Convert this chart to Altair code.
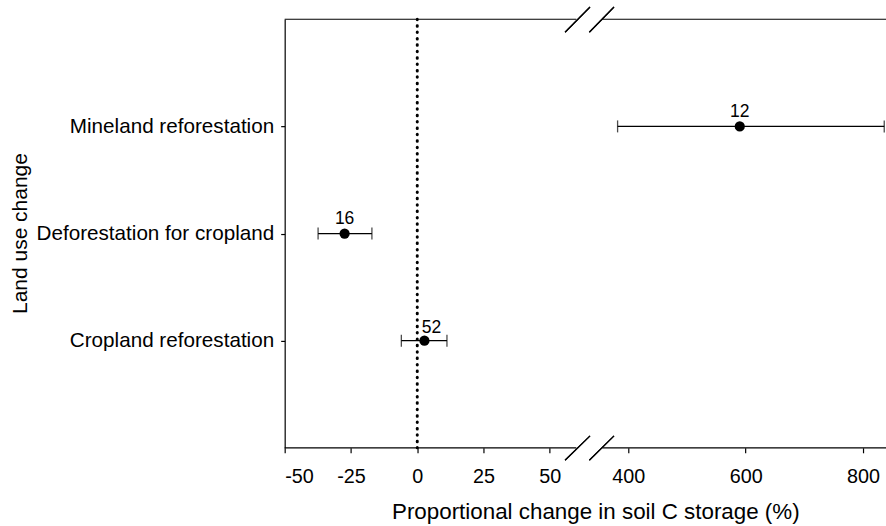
import altair as alt
import pandas as pd

categories = ["Mineland reforestation", "Deforestation for cropland", "Cropland reforestation"]
means = [590, -27.4, 2.7]
lowers = [382, -37.4, -6.0]
uppers = [836, -17.1, 11.2]
counts = ["12", "16", "52"]

x_ticks = [-50, -25, 0, 25, 50, 400, 600, 800]
# broken axis: left piece -50..60, right piece 356..839
x_domain = [-50, 60, 356, 839]
x_range = [0, 292, 318, 602]
seg_start = [-50, 356]
seg_end = [60, 839]

W, H = 602, 429
FONT = "Liberation Sans"

df = pd.DataFrame({"cat": categories, "mean": means, "lo": lowers, "hi": uppers, "n": counts})
segs = pd.DataFrame({"s": seg_start, "e": seg_end})

xs = alt.Scale(domain=x_domain, range=x_range, nice=False, zero=False)
ys = alt.Scale(domain=categories, type="point", padding=1)

xaxis = alt.Axis(values=x_ticks, grid=False, domain=False, ticks=True, tickSize=5,
                 tickColor="black", tickWidth=1.2, labelFontSize=19.8, labelFont=FONT,
                 labelColor="black", labelPadding=14, labelExpr="'' + datum.value",
                 title="Proportional change in soil C storage (%)", titleFont=FONT,
                 titleFontSize=22.4, titleFontWeight="normal", titleColor="black",
                 titleX=311, titleY=71, titleBaseline="alphabetic", titleAlign="center")
yaxis = alt.Axis(grid=False, domain=True, domainColor="black", domainWidth=1.2,
                 ticks=True, tickSize=4, tickColor="black", tickWidth=1.2,
                 labelFontSize=20.7, labelFont=FONT, labelColor="black", labelPadding=7,
                 labelLimit=400,
                 title="Land use change", titleFont=FONT, titleFontSize=21,
                 titleFontWeight="normal", titleColor="black", titleAngle=270,
                 titleX=-264, titleY=214, titleBaseline="middle", titleAlign="center")

base = alt.Chart(df)

bars = base.mark_rule(color="black", strokeWidth=1.3).encode(
    x=alt.X("lo:Q", scale=xs, axis=xaxis),
    x2="hi:Q",
    y=alt.Y("cat:N", scale=ys, axis=yaxis, sort=categories),
)
cap_lo = base.mark_tick(color="black", thickness=1.3, size=12).encode(
    x=alt.X("lo:Q", scale=xs), y=alt.Y("cat:N", scale=ys, sort=categories))
cap_hi = base.mark_tick(color="black", thickness=1.3, size=12).encode(
    x=alt.X("hi:Q", scale=xs), y=alt.Y("cat:N", scale=ys, sort=categories))
pts = base.mark_circle(color="black", opacity=1, size=105).encode(
    x=alt.X("mean:Q", scale=xs), y=alt.Y("cat:N", scale=ys, sort=categories))

lab_main = base.transform_filter(alt.datum.n != "52").mark_text(
    font=FONT, fontSize=17.5, color="black", baseline="alphabetic", dy=-9.5
).encode(x=alt.X("mean:Q", scale=xs), y=alt.Y("cat:N", scale=ys, sort=categories), text="n:N")
lab_shift = base.transform_filter(alt.datum.n == "52").mark_text(
    font=FONT, fontSize=17.5, color="black", baseline="alphabetic", dy=-8, dx=7
).encode(x=alt.X("mean:Q", scale=xs), y=alt.Y("cat:N", scale=ys, sort=categories), text="n:N")

zero = alt.Chart(pd.DataFrame({"z": [0]})).mark_rule(
    color="black", strokeWidth=3, strokeDash=[0.5, 5.9], strokeCap="round"
).encode(x=alt.X("z:Q", scale=xs), y=alt.value(0), y2=alt.value(H))

top_line = alt.Chart(segs).mark_rule(color="black", strokeWidth=1.2).encode(
    x=alt.X("s:Q", scale=xs), x2="e:Q", y=alt.value(0))
bot_line = alt.Chart(segs).mark_rule(color="black", strokeWidth=1.2).encode(
    x=alt.X("s:Q", scale=xs), x2="e:Q", y=alt.value(H))

def slash(x0, y0, x1, y1):
    return alt.Chart(segs).mark_rule(color="black", strokeWidth=1.2).encode(
        x=alt.value(x0), x2=alt.value(x1), y=alt.value(y0), y2=alt.value(y1))

slashes = [
    slash(280.7, 13, 305.7, -12.3), slash(305, 13, 329.7, -12.3),
    slash(280.7, H + 12.5, 305.7, H - 12), slash(305, H + 12.5, 329.7, H - 12),
]

chart = alt.layer(bars, cap_lo, cap_hi, zero, pts, lab_main, lab_shift,
                  top_line, bot_line, *slashes).properties(
    width=W, height=H,
    padding={"left": 285, "top": 19, "right": 0, "bottom": 78},
    autosize=alt.AutoSizeParams(type="none"),
).configure_view(stroke=None)

chart.save("out.html", embed_options={"renderer": "svg", "actions": False})
